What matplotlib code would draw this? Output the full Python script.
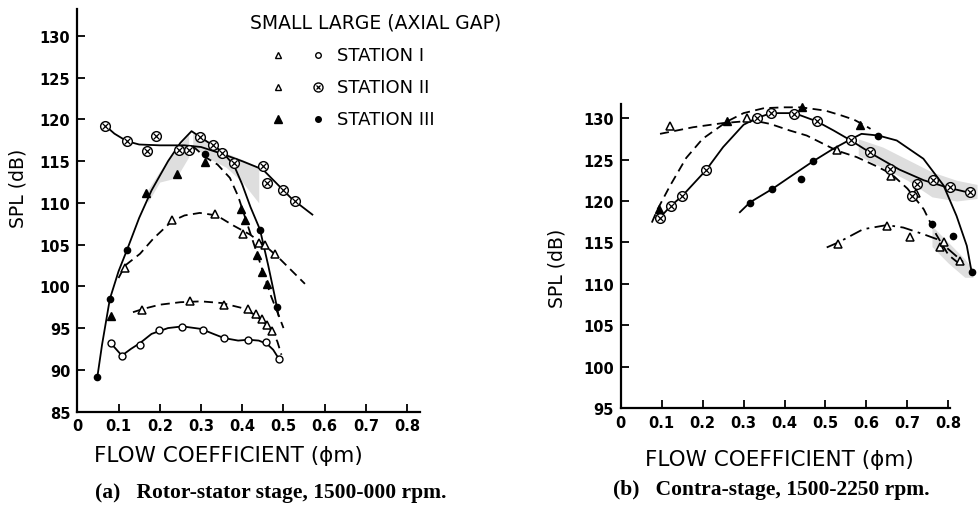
import matplotlib
matplotlib.use("Agg")
import matplotlib.pyplot as plt

# ---------------- panel (a): rotor-stator stage ----------------
# station I, small gap (open triangles, dashed)
a_s1_lx = [0.135, 0.16, 0.2, 0.25, 0.3, 0.35, 0.4, 0.43, 0.45, 0.47, 0.485, 0.495]
a_s1_ly = [96.9, 97.3, 97.8, 98.1, 98.2, 98.0, 97.4, 96.6, 95.8, 94.8, 93.4, 91.8]
a_s1_mx = [0.156, 0.273, 0.356, 0.415, 0.433, 0.447, 0.459, 0.471]
a_s1_my = [97.2, 98.2, 97.8, 97.3, 96.7, 96.1, 95.4, 94.7]
# station I, large gap (open circles, solid)
a_l1_lx = [0.081, 0.108, 0.13, 0.152, 0.18, 0.22, 0.255, 0.3, 0.33, 0.356, 0.39, 0.415, 0.44, 0.46, 0.475, 0.489]
a_l1_ly = [93.2, 91.7, 92.5, 93.2, 94.3, 95.0, 95.2, 94.9, 94.3, 93.8, 93.5, 93.6, 93.5, 93.1, 92.4, 91.3]
a_l1_mx = [0.081, 0.108, 0.152, 0.199, 0.255, 0.304, 0.356, 0.415, 0.457, 0.489]
a_l1_my = [93.2, 91.7, 93.0, 94.8, 95.1, 94.8, 93.8, 93.6, 93.3, 91.3]
# station II, small gap (open triangles, dashed)
a_s2_lx = [0.1, 0.116, 0.152, 0.184, 0.229, 0.26, 0.297, 0.338, 0.378, 0.419, 0.455, 0.491, 0.552]
a_s2_ly = [101.0, 102.5, 103.9, 105.7, 107.8, 108.5, 108.8, 108.5, 107.3, 106.2, 104.9, 103.3, 100.3]
a_s2_mx = [0.116, 0.229, 0.334, 0.402, 0.44, 0.455, 0.479]
a_s2_my = [102.2, 107.9, 108.7, 106.3, 105.2, 104.9, 103.9]
# station II, large gap (crossed circles, solid)
a_l2_lx = [0.067, 0.09, 0.12, 0.15, 0.2, 0.26, 0.3, 0.35, 0.4, 0.45, 0.48, 0.52, 0.57]
a_l2_ly = [119.3, 118.3, 117.4, 117.0, 116.9, 116.9, 116.7, 115.9, 115.0, 114.0, 112.5, 110.5, 108.6]
a_l2_mx = [0.067, 0.12, 0.17, 0.192, 0.247, 0.27, 0.298, 0.33, 0.35, 0.38, 0.45, 0.46, 0.498, 0.528]
a_l2_my = [119.25, 117.4, 116.2, 118.0, 116.4, 116.3, 117.9, 116.9, 116.0, 114.8, 114.4, 112.4, 111.6, 110.2]
# station III, small gap (filled triangles, dashed)
a_s3_lx = [0.28, 0.31, 0.34, 0.37, 0.39, 0.41, 0.43, 0.45, 0.47, 0.49, 0.5]
a_s3_ly = [116.8, 115.5, 114.6, 113.0, 110.8, 107.8, 104.8, 101.8, 98.8, 96.3, 95.0]
a_s3_mx = [0.081, 0.167, 0.242, 0.31, 0.398, 0.406, 0.435, 0.447, 0.461]
a_s3_my = [96.5, 111.2, 113.5, 114.9, 109.3, 107.9, 103.7, 101.7, 100.3]
# station III, large gap (filled circles, solid)
a_l3_lx = [0.0485, 0.06, 0.079, 0.1, 0.12, 0.15, 0.18, 0.22, 0.25, 0.277, 0.31, 0.35, 0.38, 0.4, 0.42, 0.443, 0.463, 0.478, 0.488]
a_l3_ly = [89.1, 93.0, 98.5, 101.8, 104.3, 108.2, 111.5, 115.0, 117.2, 118.6, 117.5, 116.2, 114.5, 112.2, 109.5, 106.8, 102.5, 99.0, 96.5]
a_l3_mx = [0.0485, 0.079, 0.12, 0.31, 0.443, 0.484]
a_l3_my = [89.1, 98.5, 104.3, 115.9, 106.7, 97.5]
# grey shading in the scan
a_sh1_x = [0.17, 0.2, 0.24, 0.27]
a_sh1_lo = [110.0, 112.5, 113.0, 115.5]
a_sh1_hi = [111.5, 113.8, 116.5, 118.2]
a_sh2_x = [0.28, 0.32, 0.36, 0.40, 0.44]
a_sh2_lo = [116.8, 115.3, 114.3, 112.5, 110.0]
a_sh2_hi = [118.4, 117.3, 116.0, 115.2, 114.3]

# ---------------- panel (b): contra-stage ----------------
b_s1_lx = [0.503, 0.531, 0.592, 0.65, 0.69, 0.739, 0.772, 0.837]
b_s1_ly = [114.4, 115.0, 116.6, 117.1, 116.8, 116.0, 115.4, 112.6]
b_s1_mx = [0.531, 0.65, 0.706, 0.78, 0.829]
b_s1_my = [114.8, 117.0, 115.6, 114.4, 112.8]
b_s2_lx = [0.096, 0.177, 0.25, 0.324, 0.365, 0.413, 0.454, 0.527, 0.576, 0.62, 0.66, 0.7, 0.74, 0.77, 0.8, 0.83]
b_s2_ly = [128.1, 128.9, 129.4, 129.7, 129.3, 128.5, 127.9, 126.1, 125.3, 124.3, 123.3, 121.5, 119.0, 116.0, 113.5, 112.3]
b_s2_mx = [0.12, 0.308, 0.527, 0.66, 0.72, 0.79]
b_s2_my = [129.1, 130.0, 126.1, 123.0, 121.0, 115.0]
b_l2_lx = [0.096, 0.122, 0.15, 0.208, 0.25, 0.3, 0.332, 0.367, 0.424, 0.479, 0.52, 0.562, 0.62, 0.68, 0.74, 0.8, 0.86]
b_l2_ly = [118.0, 119.4, 120.6, 123.7, 126.5, 129.2, 130.0, 130.6, 130.6, 129.6, 128.5, 127.3, 125.5, 123.8, 122.5, 121.6, 120.9]
b_l2_mx = [0.096, 0.122, 0.15, 0.208, 0.332, 0.367, 0.424, 0.479, 0.562, 0.609, 0.658, 0.711, 0.723, 0.763, 0.804, 0.853]
b_l2_my = [118.0, 119.4, 120.6, 123.7, 130.0, 130.6, 130.5, 129.6, 127.3, 125.9, 123.9, 120.6, 122.1, 122.5, 121.7, 121.1]
b_s3_lx = [0.076, 0.09, 0.12, 0.16, 0.2, 0.26, 0.3, 0.35, 0.4, 0.44, 0.5, 0.54, 0.57, 0.6, 0.61]
b_s3_ly = [117.4, 119.0, 121.8, 125.2, 127.5, 129.6, 130.6, 131.2, 131.3, 131.3, 130.9, 130.3, 129.8, 129.0, 128.7]
b_s3_mx = [0.094, 0.259, 0.442, 0.584]
b_s3_my = [119.0, 129.7, 131.3, 129.2]
b_l3_lx = [0.291, 0.316, 0.37, 0.413, 0.47, 0.519, 0.564, 0.588, 0.629, 0.674, 0.739, 0.788, 0.82, 0.845, 0.857]
b_l3_ly = [118.65, 119.85, 121.45, 122.9, 124.8, 126.3, 127.5, 128.1, 127.9, 127.3, 125.1, 121.9, 118.2, 114.6, 111.4]
b_l3_mx = [0.316, 0.37, 0.44, 0.47, 0.629, 0.759, 0.812, 0.857]
b_l3_my = [119.8, 121.5, 122.7, 124.8, 127.9, 117.2, 115.8, 111.4]
b_sh1_x = [0.58, 0.64, 0.7, 0.76, 0.82, 0.87]
b_sh1_lo = [125.5, 124.0, 122.5, 120.5, 120.0, 120.3]
b_sh1_hi = [127.5, 126.5, 125.0, 123.5, 122.5, 122.0]
b_sh2_x = [0.76, 0.8, 0.84, 0.86]
b_sh2_lo = [114.5, 112.5, 110.8, 110.8]
b_sh2_hi = [117.0, 115.0, 113.0, 111.8]

x_ticks = [0, 0.1, 0.2, 0.3, 0.4, 0.5, 0.6, 0.7, 0.8]
x_labels = ["0", "0.1", "0.2", "0.3", "0.4", "0.5", "0.6", "0.7", "0.8"]
a_yticks = [85, 90, 95, 100, 105, 110, 115, 120, 125, 130]
b_yticks = [95, 100, 105, 110, 115, 120, 125, 130]
legend_rows = ["STATION I", "STATION II", "STATION III"]

W, H = 979, 506
DASH = (0, (5, 3))
DASHDOT = (0, (7, 3, 1.5, 3))
SHADE = "#dedede"

fig = plt.figure(figsize=(W / 100, H / 100), dpi=100)


def frac(l, t, r, b):
    return [l / W, (H - b) / H, (r - l) / W, (b - t) / H]


def style(ax, yt):
    for s in ("top", "right"):
        ax.spines[s].set_visible(False)
    for s in ("left", "bottom"):
        ax.spines[s].set_linewidth(1.6)
    ax.set_xticks(x_ticks, x_labels)
    ax.set_yticks(yt)
    ax.tick_params(direction="in", length=6, width=1.3, labelsize=10.5, pad=5)
    for lab in ax.get_xticklabels() + ax.get_yticklabels():
        lab.set_fontweight("bold")


def series(ax, lx, ly, mx, my, ls, marker):
    ax.plot(lx, ly, color="black", lw=1.3, ls=ls, clip_on=False, zorder=3)
    if marker == "otimes":
        ax.plot(mx, my, ls="none", marker="o", ms=7, mfc="white", mec="black", mew=1.0, clip_on=False, zorder=4)
        ax.plot(mx, my, ls="none", marker="x", ms=4, mec="black", mew=0.9, clip_on=False, zorder=5)
    elif marker == "open_tri":
        ax.plot(mx, my, ls="none", marker="^", ms=6, mfc="white", mec="black", mew=1.1, clip_on=False, zorder=4)
    elif marker == "open_circ":
        ax.plot(mx, my, ls="none", marker="o", ms=5, mfc="white", mec="black", mew=1.0, clip_on=False, zorder=4)
    elif marker == "fill_tri":
        ax.plot(mx, my, ls="none", marker="^", ms=6, color="black", clip_on=False, zorder=4)
    else:
        ax.plot(mx, my, ls="none", marker="o", ms=4.5, color="black", clip_on=False, zorder=4)


# panel (a)
axa = fig.add_axes(frac(77.3, 10, 420, 412.5))
axa.set_xlim(0, 0.831)
axa.set_ylim(85, 133.24)
style(axa, a_yticks)
axa.fill_between(a_sh1_x, a_sh1_lo, a_sh1_hi, color=SHADE, lw=0, zorder=1)
axa.fill_between(a_sh2_x, a_sh2_lo, a_sh2_hi, color=SHADE, lw=0, zorder=1)
series(axa, a_s1_lx, a_s1_ly, a_s1_mx, a_s1_my, DASH, "open_tri")
series(axa, a_l1_lx, a_l1_ly, a_l1_mx, a_l1_my, "-", "open_circ")
series(axa, a_s2_lx, a_s2_ly, a_s2_mx, a_s2_my, DASH, "open_tri")
series(axa, a_l2_lx, a_l2_ly, a_l2_mx, a_l2_my, "-", "otimes")
series(axa, a_s3_lx, a_s3_ly, a_s3_mx, a_s3_my, DASH, "fill_tri")
series(axa, a_l3_lx, a_l3_ly, a_l3_mx, a_l3_my, "-", "fill_circ")

# panel (b)
axb = fig.add_axes(frac(620.7, 105, 950, 409.3))
axb.set_xlim(0, 0.804)
axb.set_ylim(95, 131.7)
style(axb, b_yticks)
axb.fill_between(b_sh1_x, b_sh1_lo, b_sh1_hi, color=SHADE, lw=0, zorder=1, clip_on=False)
axb.fill_between(b_sh2_x, b_sh2_lo, b_sh2_hi, color=SHADE, lw=0, zorder=1, clip_on=False)
series(axb, b_s1_lx, b_s1_ly, b_s1_mx, b_s1_my, DASHDOT, "open_tri")
series(axb, b_s2_lx, b_s2_ly, b_s2_mx, b_s2_my, DASH, "open_tri")
series(axb, b_l2_lx, b_l2_ly, b_l2_mx, b_l2_my, "-", "otimes")
series(axb, b_s3_lx, b_s3_ly, b_s3_mx, b_s3_my, DASH, "fill_tri")
series(axb, b_l3_lx, b_l3_ly, b_l3_mx, b_l3_my, "-", "fill_circ")

# text layer in pixel coordinates
ov = fig.add_axes([0, 0, 1, 1])
ov.set_xlim(0, W)
ov.set_ylim(H, 0)
ov.axis("off")

lab_kw = dict(fontsize=15.5, ha="center", va="center")
ov.text(228.5, 456, "FLOW COEFFICIENT (ϕm)", **lab_kw)
ov.text(779, 460, "FLOW COEFFICIENT (ϕm)", **lab_kw)
ov.text(18, 188, "SPL (dB)", fontsize=13.5, rotation=90, ha="center", va="center")
ov.text(557, 268, "SPL (dB)", fontsize=13.5, rotation=90, ha="center", va="center")

cap_kw = dict(fontsize=15.5, fontweight="bold", family="Liberation Serif", ha="left", va="center")
ov.text(95, 493, "(a)   Rotor-stator stage, 1500-000 rpm.", **cap_kw)
ov.text(613, 490, "(b)   Contra-stage, 1500-2250 rpm.", **cap_kw)

ov.text(250, 23, "SMALL LARGE (AXIAL GAP)", fontsize=13.5, ha="left", va="center")
row_y = [56, 88, 119.5]
ov.plot([278], [row_y[0]], ls="none", marker="^", ms=4.5, mfc="white", mec="black", mew=1.0)
ov.plot([318], [row_y[0]], ls="none", marker="o", ms=4, mfc="white", mec="black", mew=1.0)
ov.plot([278], [row_y[1]], ls="none", marker="^", ms=5, mfc="white", mec="black", mew=1.0)
ov.plot([318], [row_y[1]], ls="none", marker="o", ms=6.5, mfc="white", mec="black", mew=1.0)
ov.plot([318], [row_y[1]], ls="none", marker="x", ms=3.5, mec="black", mew=0.9)
ov.plot([278], [row_y[2]], ls="none", marker="^", ms=5.5, color="black")
ov.plot([318], [row_y[2]], ls="none", marker="o", ms=4, color="black")
for yy, name in zip(row_y, legend_rows):
    ov.text(337, yy, name, fontsize=13, ha="left", va="center")

fig.savefig("out.png", dpi=100)
